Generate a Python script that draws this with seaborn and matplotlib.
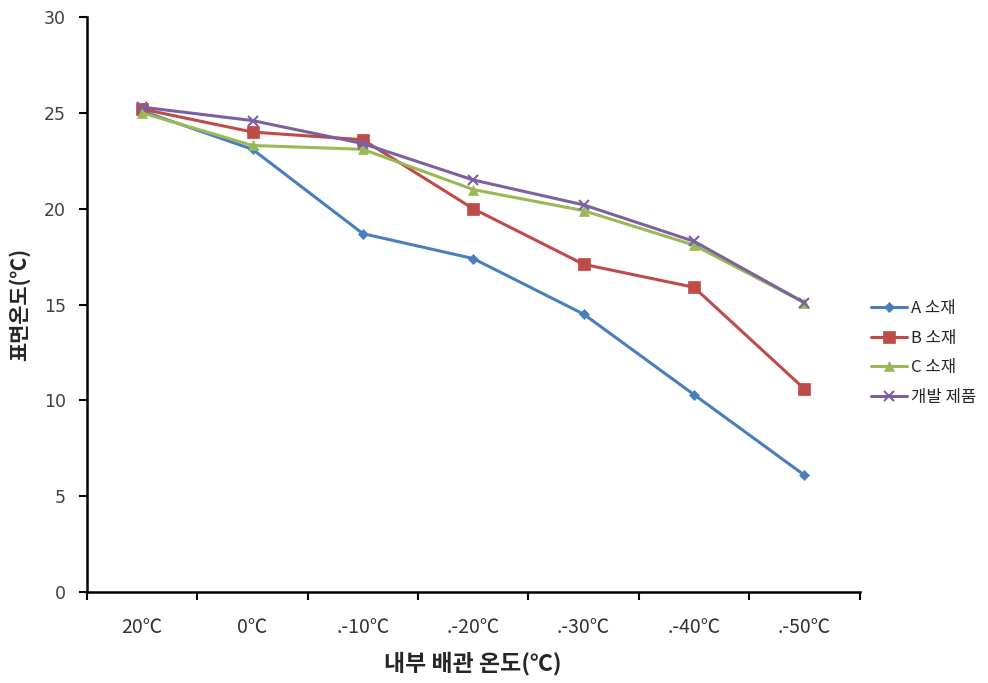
import matplotlib
matplotlib.use("Agg")
import matplotlib.pyplot as plt
import seaborn as sns
import pandas as pd
import numpy as np

categories = ["20℃", "0℃", ".-10℃", ".-20℃", ".-30℃", ".-40℃", ".-50℃"]
series_names = ["A 소재", "B 소재", "C 소재", "개발 제품"]
a_vals = [25.1, 23.1, 18.7, 17.4, 14.5, 10.3, 6.1]
b_vals = [25.2, 24.0, 23.6, 20.0, 17.1, 15.9, 10.6]
c_vals = [25.0, 23.3, 23.1, 21.0, 19.9, 18.1, 15.1]
d_vals = [25.3, 24.6, 23.4, 21.5, 20.2, 18.3, 15.1]
y_ticks = [0, 5, 10, 15, 20, 25, 30]

colors = ["#4A7EBB", "#BE4B48", "#98B954", "#7D60A0"]
markers = ["D", "s", "^", "x"]
msizes = [5, 8, 7, 7]

sns.set_style("white")
plt.rcParams['font.family'] = ['Noto Sans CJK KR', 'DejaVu Sans']

rows = []
for name, vals in zip(series_names, [a_vals, b_vals, c_vals, d_vals]):
    for i, v in enumerate(vals):
        rows.append({"pos": i, "val": v, "series": name})
df = pd.DataFrame(rows)

fig = plt.figure(figsize=(9.88, 6.83), dpi=100)
ax = fig.add_axes([0.088, 0.1332, 0.782, 0.8418])

for name, col, mk, ms in zip(series_names, colors, markers, msizes):
    sub = df[df.series == name]
    sns.lineplot(data=sub, x="pos", y="val", ax=ax, color=col, marker=mk,
                 markersize=ms, linewidth=2.2, label=name,
                 markeredgecolor=col, markeredgewidth=1.5 if mk == "x" else 0.5)

ax.set_xlim(-0.5, len(categories) - 0.5)
ax.set_ylim(0, 30)
ax.set_yticks(y_ticks)
ax.set_yticklabels([str(t) for t in y_ticks], fontsize=12.5, color="#404040",
                   family=['DejaVu Sans'])
ax.set_xticks(np.arange(-0.5, len(categories), 1.0))
ax.set_xticklabels([])
ax.set_xticks(np.arange(len(categories)), minor=True)
ax.set_xticklabels(categories, minor=True, fontsize=14, color="#333333")
ax.tick_params(axis="x", which="major", direction="out", length=6, width=1.5, color="black", bottom=True)
ax.tick_params(axis="x", which="minor", length=0, pad=18)
ax.tick_params(axis="y", direction="out", length=6, width=1.5, color="black", left=True, pad=9)

for s in ["top", "right"]:
    ax.spines[s].set_visible(False)
for s in ["left", "bottom"]:
    ax.spines[s].set_color("black")
    ax.spines[s].set_linewidth(1.8)

ax.set_xlabel("내부 배관 온도(℃)", fontsize=16.5, fontweight="bold", labelpad=10)
ax.set_ylabel("표면온도(℃)", fontsize=15, fontweight="bold", labelpad=10)

leg = ax.legend(loc="center left", bbox_to_anchor=(0.995, 0.416), frameon=False,
                fontsize=12, handlelength=2.2, handletextpad=0.2, labelspacing=0.75)

fig.savefig("out.png", dpi=100)
